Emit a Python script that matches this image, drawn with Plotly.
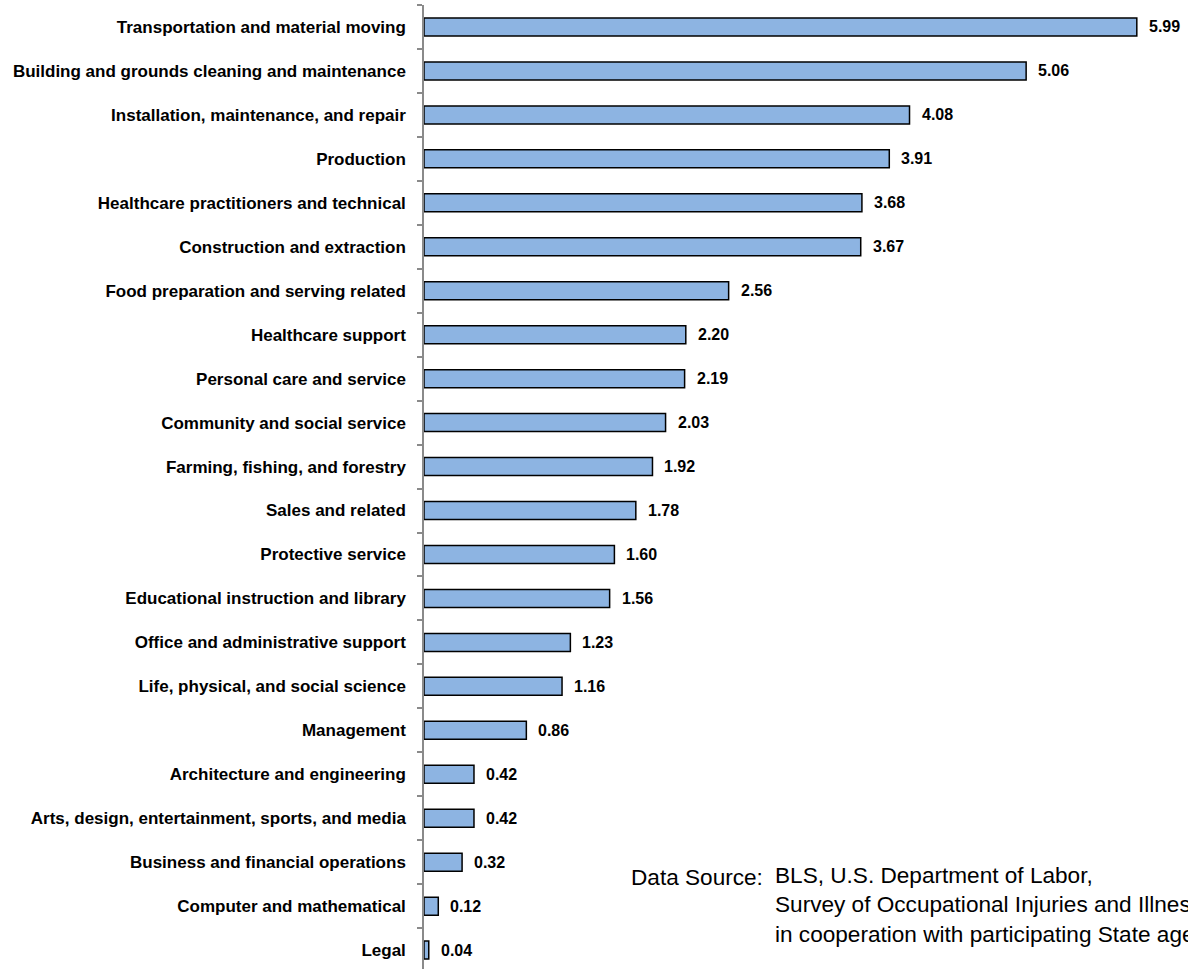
import plotly.graph_objects as go

categories = [
    "Transportation and material moving",
    "Building and grounds cleaning and maintenance",
    "Installation, maintenance, and repair",
    "Production",
    "Healthcare practitioners and technical",
    "Construction and extraction",
    "Food preparation and serving related",
    "Healthcare support",
    "Personal care and service",
    "Community and social service",
    "Farming, fishing, and forestry",
    "Sales and related",
    "Protective service",
    "Educational instruction and library",
    "Office and administrative support",
    "Life, physical, and social science",
    "Management",
    "Architecture and engineering",
    "Arts, design, entertainment, sports, and media",
    "Business and financial operations",
    "Computer and mathematical",
    "Legal",
]
values = [5.99, 5.06, 4.08, 3.91, 3.68, 3.67, 2.56, 2.20, 2.19, 2.03, 1.92,
          1.78, 1.60, 1.56, 1.23, 1.16, 0.86, 0.42, 0.42, 0.32, 0.12, 0.04]
value_labels = [f"{v:.2f}" for v in values]

source_label = "Data Source:"
source_lines = ["BLS, U.S. Department of Labor,",
                "Survey of Occupational Injuries and Illnesses,",
                "in cooperation with participating State agencies"]

FONT = "Liberation Sans, Arial, sans-serif"

# plot-area geometry (page pixels)
PL, PT, PW, PH = 424, 5, 764, 964

fig = go.Figure()
fig.add_trace(go.Bar(
    x=values, y=categories, orientation="h",
    width=0.41,
    marker=dict(color="#8DB4E2", line=dict(color="#000000", width=1.5)),
    hoverinfo="x+y",
))

for v, c, t in zip(values, categories, value_labels):
    fig.add_annotation(x=v, y=c, xref="x", yref="y", text=t,
                       showarrow=False, xanchor="left", yanchor="middle",
                       xshift=10,
                       font=dict(family=FONT, size=16, color="#000", weight="bold"))

fig.add_annotation(x=(629 - PL) / PW, y=1 - (877 - PT) / PH, xref="paper", yref="paper",
                   text=source_label, showarrow=False, xanchor="left", yanchor="middle",
                   align="left", font=dict(family=FONT, size=22.6, color="#000"))
fig.add_annotation(x=(773 - PL) / PW, y=1 - (905 - PT) / PH, xref="paper", yref="paper",
                   text="<br>".join(source_lines), showarrow=False, xanchor="left",
                   yanchor="middle", align="left",
                   font=dict(family=FONT, size=22.6, color="#000"))

fig.update_layout(
    width=1188, height=969,
    margin=dict(l=PL, r=1188 - PL - PW, t=PT, b=969 - PT - PH, autoexpand=False),
    plot_bgcolor="white", paper_bgcolor="white",
    showlegend=False,
    xaxis=dict(range=[0, PW / 119.0], visible=False, fixedrange=True),
    yaxis=dict(
        type="category",
        categoryorder="array", categoryarray=categories,
        range=[21.43, -0.5],
        showline=True, linecolor="#8A8A8A", linewidth=1.5,
        ticks="outside", ticklen=5, tickcolor="#8A8A8A", tickwidth=1.5,
        tickson="boundaries",
        showgrid=False, automargin=False,
        ticklabelstandoff=13,
        tickfont=dict(family=FONT, size=17, color="#000", weight="bold"),
    ),
    font=dict(family=FONT),
)

fig.write_html("out.html", config={"displayModeBar": False},
               post_script="document.body.style.margin='0';")
